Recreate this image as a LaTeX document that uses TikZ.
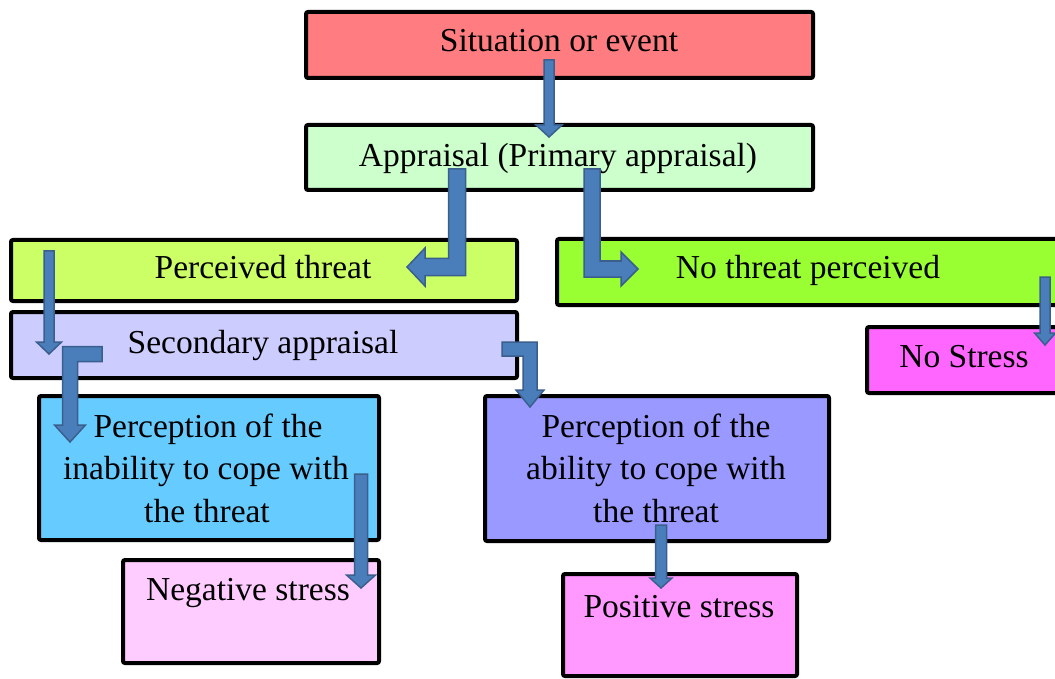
\documentclass[tikz,border=0pt]{standalone}
\usepackage{fontspec}
\setmainfont{Liberation Serif}
\usetikzlibrary{calc}
\definecolor{cSit}{HTML}{FF7C80}
\definecolor{cApp}{HTML}{CCFFCC}
\definecolor{cPT}{HTML}{CCFF66}
\definecolor{cNT}{HTML}{99FF33}
\definecolor{cSec}{HTML}{CCCCFF}
\definecolor{cNS}{HTML}{FF66FF}
\definecolor{cInab}{HTML}{66CCFF}
\definecolor{cAb}{HTML}{9999FF}
\definecolor{cNeg}{HTML}{FFCCFF}
\definecolor{cPos}{HTML}{FF99FF}
\definecolor{cArr}{HTML}{4A7EBB}
\definecolor{cArrB}{HTML}{3A5F8C}
\tikzset{
  box/.style={draw=black, line width=4pt, rounded corners=2pt, inner sep=0pt},
  txt/.style={font=\fontsize{33.5}{40}\selectfont, inner sep=0pt, anchor=base},
  barrow/.style={fill=cArr, draw=cArrB, line width=1.5pt, line join=miter}
}
\newcommand\vblockarrow[5]{%
  \draw[barrow] ($(#1)+(-#3,0)$) -- ($(#2)+(-#3,-#5)$) -- ($(#2)+(-#4,-#5)$) -- (#2)
    -- ($(#2)+(#4,-#5)$) -- ($(#2)+(#3,-#5)$) -- ($(#1)+(#3,0)$) -- cycle;}
\begin{document}
\begin{tikzpicture}[x=1pt,y=-1pt]
\useasboundingbox (0,0) rectangle (1055,679);
\clip (0,0) rectangle (1055,679);
\fill[white] (0,0) rectangle (1055,679);
% boxes
\node[box, fill=cSit, minimum width=507pt, minimum height=66pt] (sit) at (559.5,45) {};
\node[box, fill=cApp, minimum width=507pt, minimum height=65pt] (app) at (559.5,157.5) {};
\node[box, fill=cPT, minimum width=506pt, minimum height=61pt] (pt) at (264,270.5) {};
\node[box, fill=cNT, minimum width=504pt, minimum height=66pt] (nt) at (809,272) {};
\node[box, fill=cSec, minimum width=506pt, minimum height=66pt] (sec) at (264,345) {};
\node[box, fill=cNS, minimum width=196pt, minimum height=66pt] (ns) at (965,360) {};
\node[box, fill=cInab, minimum width=340pt, minimum height=144pt] (inab) at (209,468) {};
\node[box, fill=cAb, minimum width=344pt, minimum height=145pt] (ab) at (657,468.5) {};
\node[box, fill=cNeg, minimum width=256pt, minimum height=103pt] (neg) at (251,611.5) {};
\node[box, fill=cPos, minimum width=234pt, minimum height=102pt] (pos) at (680,625) {};
% texts
\node[txt] (tsit) at (559,52) {Situation or event};
\node[txt] (tapp) at (558,167) {Appraisal (Primary appraisal)};
\node[txt] (tpt) at (263,279) {Perceived threat};
\node[txt] (tnt) at (808,279) {No threat perceived};
\node[txt] (tsec) at (263,353) {Secondary appraisal};
\node[txt] (tns) at (964,367) {No Stress};
\node[txt] (tinabA) at (208,437) {Perception of the};
\node[txt] (tinabB) at (206,479.5) {inability to cope with};
\node[txt] (tinabC) at (207,522) {the threat};
\node[txt] (tabA) at (656,437) {Perception of the};
\node[txt] (tabB) at (656,479.5) {ability to cope with};
\node[txt] (tabC) at (656,522) {the threat};
\node[txt] (tneg) at (248,600) {Negative stress};
\node[txt] (tpos) at (679,617) {Positive stress};
% arrow coordinates
\coordinate (a1s) at (549,60);   \coordinate (a1t) at (549,137);
\coordinate (a2s) at (457,169);  \coordinate (a2c) at (457,267);  \coordinate (a2t) at (407,267);
\coordinate (a3s) at (592,169);  \coordinate (a3c) at (592,269);  \coordinate (a3t) at (638,269);
\coordinate (a4s) at (49,251);   \coordinate (a4t) at (49,354);
\coordinate (a5s) at (102,354);  \coordinate (a5c) at (70,354);   \coordinate (a5t) at (70,442);
\coordinate (a6s) at (502,349);  \coordinate (a6c) at (530,349);  \coordinate (a6t) at (530,407);
\coordinate (a7s) at (1045,277); \coordinate (a7t) at (1045,345);
\coordinate (a8s) at (361,474);  \coordinate (a8t) at (361,588);
\coordinate (a9s) at (661,525);  \coordinate (a9t) at (661,588);
% straight arrows
\vblockarrow{a1s}{a1t}{5}{13}{12}
\vblockarrow{a4s}{a4t}{5}{12.5}{12}
\vblockarrow{a7s}{a7t}{5}{10.5}{12}
\vblockarrow{a8s}{a8t}{6.5}{14.5}{13}
\vblockarrow{a9s}{a9t}{5.5}{11}{10}
% bent arrows
\draw[barrow] ($(a2s)+(-8.5,0)$) -- ($(a2s)+(8.5,0)$) -- ($(a2c)+(8.5,8.5)$) -- ($(a2t)+(18,8.5)$)
  -- ($(a2t)+(18,19)$) -- (a2t) -- ($(a2t)+(18,-19)$) -- ($(a2t)+(18,-8.5)$) -- ($(a2c)+(-8.5,-8.5)$) -- cycle;
\draw[barrow] ($(a3s)+(-8,0)$) -- ($(a3s)+(8,0)$) -- ($(a3c)+(8,-8)$) -- ($(a3t)+(-17,-8)$)
  -- ($(a3t)+(-17,-17)$) -- (a3t) -- ($(a3t)+(-17,17)$) -- ($(a3t)+(-17,8)$) -- ($(a3c)+(-8,8)$) -- cycle;
\draw[barrow] ($(a5s)+(0,-7.5)$) -- ($(a5c)+(-7.5,-7.5)$) -- ($(a5t)+(-7.5,-17)$) -- ($(a5t)+(-15.5,-17)$)
  -- (a5t) -- ($(a5t)+(15.5,-17)$) -- ($(a5t)+(7.5,-17)$) -- ($(a5c)+(7.5,7.5)$) -- ($(a5s)+(0,7.5)$) -- cycle;
\draw[barrow] ($(a6s)+(0,-7)$) -- ($(a6c)+(7,-7)$) -- ($(a6t)+(7,-17)$) -- ($(a6t)+(14,-17)$)
  -- (a6t) -- ($(a6t)+(-14,-17)$) -- ($(a6t)+(-7,-17)$) -- ($(a6c)+(-7,7)$) -- ($(a6s)+(0,7)$) -- cycle;
\end{tikzpicture}
\end{document}
